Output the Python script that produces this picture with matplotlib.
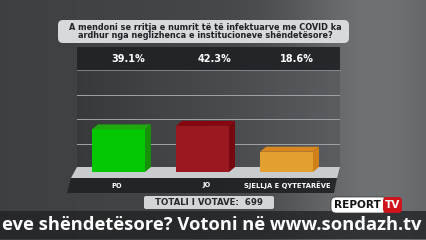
import numpy as np
import matplotlib
matplotlib.use("Agg")
import matplotlib.pyplot as plt
from matplotlib.patches import Polygon, FancyBboxPatch, Rectangle

plt.rcParams["font.family"] = ["DejaVu Sans"]

# ---- data ----
categories = ["PO", "JO", "SJELLJA E QYTETARËVE"]
values = [39.1, 42.3, 18.6]
value_labels = ["39.1%", "42.3%", "18.6%"]
question = "A mendoni se rritja e numrit të të infektuarve me COVID ka\nardhur nga neglizhenca e institucioneve shëndetësore?"
total_label = "TOTALI I VOTAVE:  699"
ticker = "eve shëndetësore? Votoni në www.sondazh.tv"

front_cols = ["#05c805", "#9a1820", "#e2a02e"]
top_cols = ["#1fa812", "#86080e", "#d8881e"]
side_cols = ["#17900a", "#760810", "#cf7f18"]

W, H = 426, 240
fig = plt.figure(figsize=(W / 100, H / 100), dpi=100)

# background axes in pixel coords
bg = fig.add_axes([0, 0, 1, 1])
bg.axis("off")
xs = np.linspace(0, 1, 300)
grad = 0.25 + 0.05 * xs + 0.15 * np.exp(-((xs - 0.88) / 0.2) ** 2)
img = np.dstack([grad * 0.98, grad, grad * 1.02])
img = np.repeat(img, 2, axis=0)
bg.imshow(np.clip(img, 0, 1), extent=[0, W, H, 0], aspect="auto", zorder=0)

# chart panel with gradient
px = np.linspace(0, 1, 200)
pg = 0.22 + 0.14 * px
pimg = np.dstack([pg * 0.97, pg, pg * 1.03])
pimg = np.repeat(pimg, 2, axis=0)
bg.imshow(np.clip(pimg, 0, 1), extent=[77, 340, 172, 70], aspect="auto", zorder=1, alpha=0.85)
bg.set_xlim(0, W)
bg.set_ylim(H, 0)

# header band
bg.add_patch(Rectangle((77, 47), 263, 23, facecolor="#1e2225", alpha=0.9, lw=0, zorder=2))
bg.plot([77, 340], [70, 70], color="#8a8e92", lw=0.6, zorder=3)

# title box
bg.add_patch(FancyBboxPatch((58, 20), 291, 23, boxstyle="round,pad=0,rounding_size=5",
                            facecolor="#d8d9db", edgecolor="none", zorder=3))
bg.text(205, 31.5, question, ha="center", va="center", fontsize=5.9, fontweight="bold",
        color="#1e2328", linespacing=1.0, zorder=4)

for i, lab in enumerate(value_labels):
    bg.text([128, 214, 297][i], 59, lab, ha="center", va="center", color="white",
            fontsize=7.0, fontweight="bold", zorder=4)

# platform
bg.add_patch(Polygon([(77, 167), (340, 167), (337, 178), (71, 178)], closed=True,
                     facecolor="#c9cccf", edgecolor="none", zorder=3))
# label band
bg.add_patch(Polygon([(71, 178), (337, 178), (334, 193), (67, 193)], closed=True,
                     facecolor="#1f2225", edgecolor="none", alpha=0.9, zorder=3))
for i, c in enumerate(categories):
    bg.text([117, 206, 287][i], 185.5, c, ha="center", va="center", color="white",
            fontsize=4.9, fontweight="bold", zorder=4)

# totals box
bg.add_patch(FancyBboxPatch((144, 196), 130, 13, boxstyle="round,pad=0,rounding_size=2",
                            facecolor="#d4d5d7", edgecolor="none", zorder=3))
bg.text(209, 202.8, total_label, ha="center", va="center", color="#25292d",
        fontsize=6.2, fontweight="bold", zorder=4)

# ticker band
bg.add_patch(Rectangle((0, 211), W, 28, facecolor="#202225", alpha=0.78, lw=0, zorder=3))
bg.text(2, 225.5, ticker, ha="left", va="center", color="white", fontsize=13.2,
        fontweight="bold", family="Open Sans", zorder=5)

# logo
bg.add_patch(FancyBboxPatch((331, 197), 56, 16, boxstyle="round,pad=0,rounding_size=5",
                            facecolor="white", edgecolor="#333", lw=0.5, zorder=5))
bg.add_patch(FancyBboxPatch((383, 197), 19, 16, boxstyle="round,pad=0,rounding_size=4",
                            facecolor="#d0141c", edgecolor="none", zorder=6))
bg.text(357, 205.5, "REPORT", ha="center", va="center", color="#111", fontsize=7.6,
        fontweight="bold", zorder=7)
bg.text(392.5, 205.5, "TV", ha="center", va="center", color="white", fontsize=7.6,
        fontweight="bold", zorder=7)

# ---- bar axes ----
px_per_unit = 84.0
px_per_pct = 1.09
ax_left, ax_right, ax_bottom, ax_top = 77, 340, 172, 70
ax = fig.add_axes([ax_left / W, 1 - ax_bottom / H, (ax_right - ax_left) / W,
                   (ax_bottom - ax_top) / H])
xmin = -(118.5 - ax_left) / px_per_unit
ax.set_xlim(xmin, xmin + (ax_right - ax_left) / px_per_unit)
ax.set_ylim(0, (ax_bottom - ax_top) / px_per_pct)
ax.patch.set_alpha(0)
ax.axis("off")
for g in [25.5, 48.5, 71]:
    ax.axhline(g, color="#a0a4a8", lw=0.7, zorder=1)

width = 53 / px_per_unit
dx = 6 / px_per_unit
dy = 5 / px_per_pct
x = np.arange(len(categories))
ax.bar(x, values, width=width, color=front_cols, zorder=3)
for xi, v, tc, sc in zip(x, values, top_cols, side_cols):
    l, r = xi - width / 2, xi + width / 2
    ax.add_patch(Polygon([(l, v), (r, v), (r + dx, v + dy), (l + dx, v + dy)],
                         closed=True, facecolor=tc, edgecolor="none", zorder=3))
    ax.add_patch(Polygon([(r, 0), (r + dx, dy), (r + dx, v + dy), (r, v)],
                         closed=True, facecolor=sc, edgecolor="none", zorder=3))

fig.savefig("out.png", dpi=100)
